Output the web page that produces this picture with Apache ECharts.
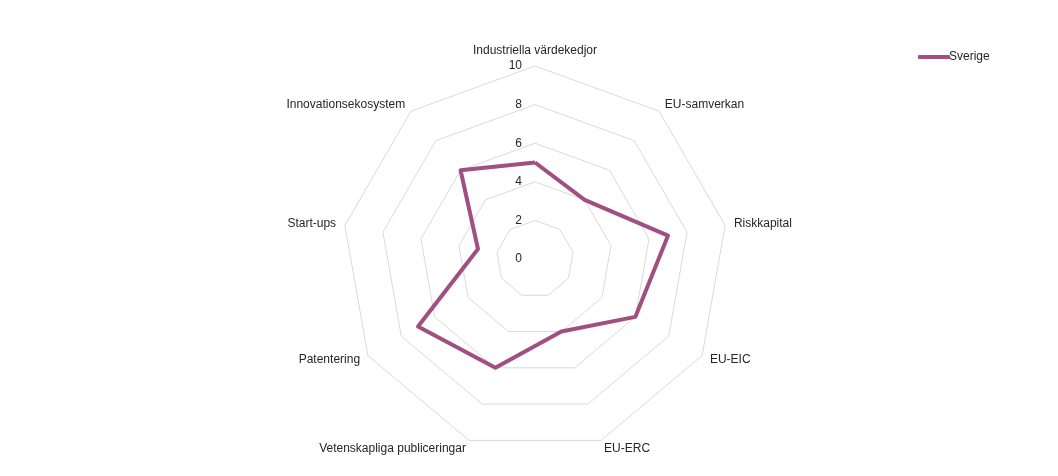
<!DOCTYPE html>
<html>
<head>
    <meta charset="utf-8" />
    <script src="https://cdn.jsdelivr.net/npm/echarts@6/dist/echarts.min.js"></script>
    <style>
        html, body { margin: 0; padding: 0; background: #fff; }
    </style>
</head>
<body>
<div id="main" style="width: 1058px;height:476px;"></div>

<script>
    // axes in clockwise order starting at the top
    var categories = [
        'Industriella värdekedjor',
        'EU-samverkan',
        'Riskkapital',
        'EU-EIC',
        'EU-ERC',
        'Vetenskapliga publiceringar',
        'Patentering',
        'Start-ups',
        'Innovationsekosystem'
    ];
    var sverige = [5, 4, 7, 6, 4, 6, 7, 3, 6];
    var seriesName = 'Sverige';
    var axisMax = 10;

    var fontFam = '"Liberation Sans", Arial, sans-serif';
    var textCol = '#262626';

    // echarts places indicators counter-clockwise, so keep the first one and reverse the rest
    function clockwise(arr) {
        return [arr[0]].concat(arr.slice(1).reverse());
    }

    var names = clockwise(categories);
    var vals = clockwise(sverige);

    var indicator = names.map(function(n, i) {
        var ind = { name: n, min: 0, max: axisMax };
        if (i === 0) {
            // value labels only along the top axis
            ind.axisLabel = {
                show: true,
                color: textCol,
                fontSize: 12,
                fontFamily: fontFam,
                margin: 13,
                padding: [4, 0, 0, 0]
            };
        }
        return ind;
    });

    var chartDom = document.getElementById('main');
    var myChart = echarts.init(chartDom);
    var option = {
        animation: false,
        legend: {
            data: [seriesName],
            left: 913,
            top: 46,
            icon: 'roundRect',
            itemWidth: 32,
            itemHeight: 4,
            textStyle: {
                color: textCol,
                fontSize: 12,
                fontFamily: fontFam,
                padding: [0, 0, 0, -6]
            }
        },
        radar: {
            center: [535, 259],
            radius: 193,
            startAngle: 90,
            splitNumber: 5,
            shape: 'polygon',
            indicator: indicator,
            axisName: {
                color: textCol,
                fontSize: 12,
                fontFamily: fontFam
            },
            nameGap: 9,
            axisLine: { show: false },
            axisTick: { show: false },
            axisLabel: { show: false },
            splitArea: { show: false },
            splitLine: {
                lineStyle: { color: '#d9d9d9', width: 1 }
            }
        },
        series: [{
            name: seriesName,
            type: 'radar',
            symbol: 'none',
            itemStyle: { color: '#A04F80' },
            lineStyle: { color: '#A04F80', width: 4 },
            data: [{ name: seriesName, value: vals }]
        }]
    };

    option && myChart.setOption(option);
</script>
</body>
</html>
